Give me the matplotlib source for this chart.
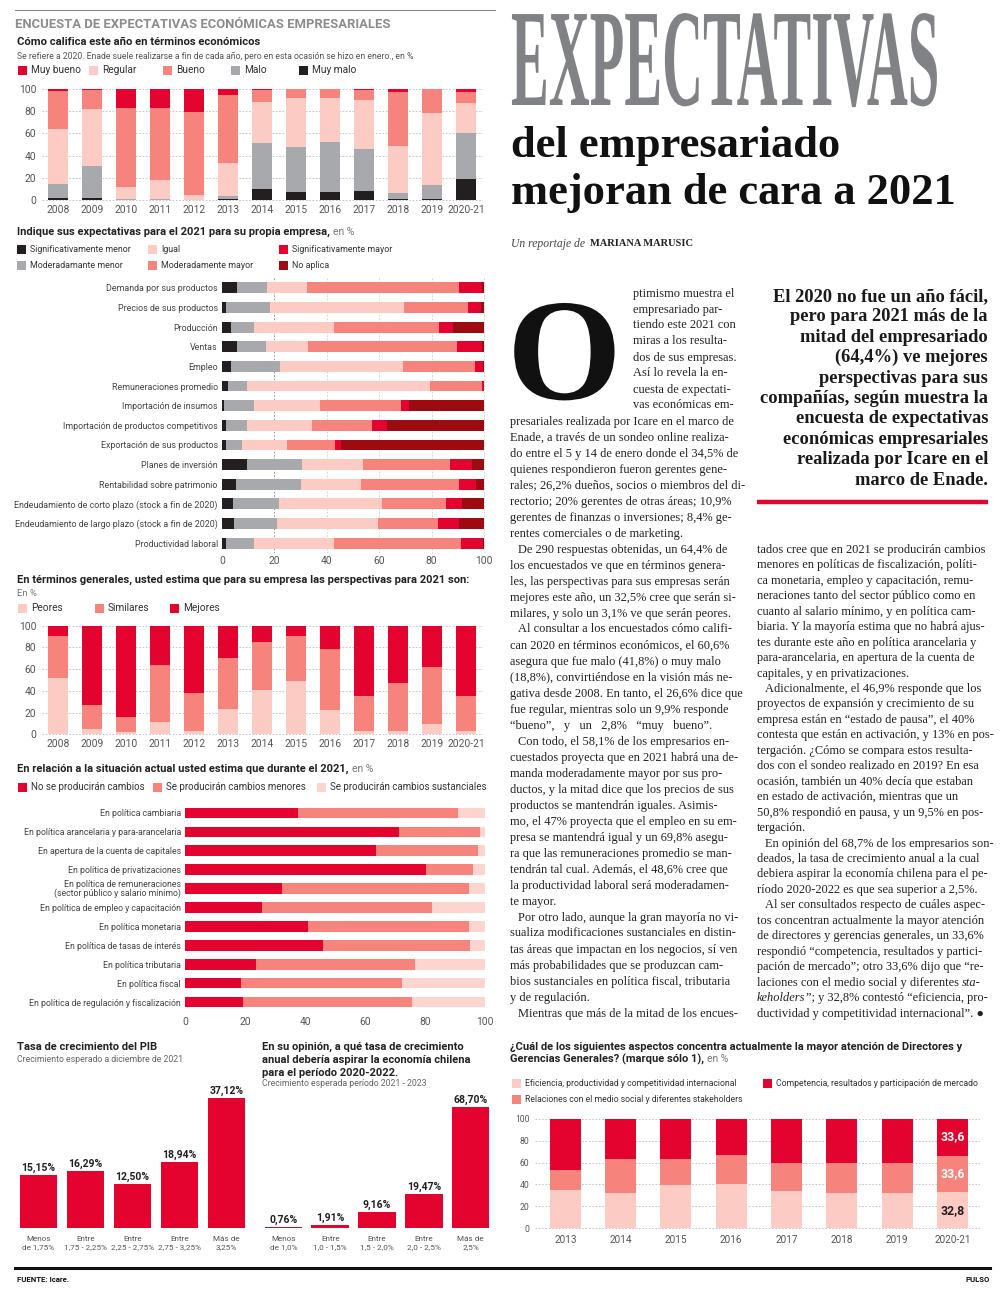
"""Pulso page: encuesta de expectativas economicas empresariales (Icare / Enade)."""

import matplotlib
matplotlib.use('Agg')
import numpy as np
import matplotlib.pyplot as plt
from matplotlib.patches import Rectangle
from matplotlib.patheffects import AbstractPathEffect
from matplotlib.transforms import Affine2D

W, H = 1000, 1298
SANS = 'Roboto'
SERIF = 'Liberation Serif'
plt.rcParams['font.family'] = [SANS, 'DejaVu Sans']

RED = '#e4032e'
SALMON = '#f6837c'
PINK = '#fccbc3'
GRAY = '#a7a9ac'
BLACK = '#231f20'
DARKRED = '#9d0a10'
TXT = '#222222'
TICK = '#555555'

# --- Como califica este ano (stacked, %)
years = ['2008', '2009', '2010', '2011', '2012', '2013', '2014', '2015',
         '2016', '2017', '2018', '2019', '2020-21']
muy_malo = [2, 2, 0, 0, 0, 1.5, 10.5, 7.7, 7.5, 8.6, 1.5, 1.5, 18.8]
malo = [13, 29, 1, 1, 0, 2.5, 40.5, 40.5, 44.5, 37, 5.5, 12.5, 41.8]
regular = [48.5, 51, 11, 17, 4.5, 29.5, 37, 43.5, 39.7, 44.4, 42, 64.4, 26.6]
bueno = [34, 16.5, 71, 65, 74.5, 60.5, 10.5, 8.3, 8.3, 8.5, 47.7, 21.6, 9.9]
muy_bueno = [2.5, 1.5, 17, 17, 21, 6, 1.5, 0, 0, 1.5, 3.3, 0, 2.8]

# --- Expectativas 2021 para la propia empresa (%)
items = ['Demanda por sus productos', 'Precios de sus productos', 'Producción',
         'Ventas', 'Empleo', 'Remuneraciones promedio', 'Importación de insumos',
         'Importación de productos competitivos', 'Exportación de sus productos',
         'Planes de inversión', 'Rentabilidad sobre patrimonio',
         'Endeudamiento de corto plazo (stock a fin de 2020)',
         'Endeudamiento de largo plazo (stock a fin de 2020)',
         'Productividad laboral']
sig_menor = [5.7, 1.5, 3.5, 5.7, 3.5, 2.3, 0.6, 1.4, 1.4, 9.5, 5.2, 4.2, 4.7, 1.4]
mod_menor = [11.6, 16.8, 8.6, 11.1, 18.6, 7.2, 11.6, 8.3, 6.2, 21.2, 25.1, 17.6, 16.3, 11.0]
igual = [15.0, 51.1, 30.6, 16.2, 47.0, 69.8, 25.3, 24.6, 17.1, 23.1, 22.9, 39.4, 38.7, 30.3]
mod_mayor = [58.1, 24.6, 40.3, 56.8, 27.5, 19.9, 30.7, 22.9, 18.4, 33.4, 37.1, 24.2, 22.7, 48.6]
sig_mayor = [8.7, 4.7, 5.0, 9.3, 3.1, 0.8, 3.1, 5.7, 2.5, 8.4, 6.5, 6.4, 7.9, 8.2]
no_aplica = [0.9, 1.3, 12.0, 0.9, 0.3, 0.0, 28.7, 37.1, 54.4, 4.4, 3.2, 8.2, 9.7, 0.5]

# --- Perspectivas generales para 2021 (%)
peores = [52, 5.2, 2.4, 11.3, 2.7, 23.2, 41.2, 48.8, 22, 3, 2.7, 9.5, 3.1]
similares = [38.2, 21.6, 13.8, 52.1, 35.1, 46.9, 43.6, 41.4, 56.7, 32.4, 44.9, 52.7, 32.5]
mejores = [9.8, 73.2, 83.8, 36.6, 62.2, 29.9, 15.2, 9.8, 21.3, 64.6, 52.4, 37.8, 64.4]

# --- Cambios en politicas durante 2021 (%)
politicas = ['En política cambiaria', 'En política arancelaria y para-arancelaria',
             'En apertura de la cuenta de capitales', 'En política de privatizaciones',
             'En política de remuneraciones\n(sector público y salario mínimo)',
             'En política de empleo y capacitación', 'En política monetaria',
             'En política de tasas de interés', 'En política tributaria',
             'En política fiscal', 'En política de regulación y fiscalización']
no_cambios = [37.7, 71.3, 63.5, 80.4, 32.2, 25.5, 41.1, 46.0, 23.7, 18.7, 19.2]
cambios_menores = [53.2, 27.0, 34.2, 15.7, 62.5, 56.8, 53.5, 49.1, 53.1, 53.6, 56.4]
cambios_sust = [9.1, 1.7, 2.3, 3.9, 5.3, 17.7, 5.4, 4.9, 23.2, 27.7, 24.4]

# --- Tasa de crecimiento del PIB / tasa a la que deberia aspirar
pib_rangos = ['Menos\nde 1,75%', 'Entre\n1,75 - 2,25%', 'Entre\n2,25 - 2,75%',
              'Entre\n2,75 - 3,25%', 'Más de\n3,25%']
pib_valores = [15.15, 16.29, 12.50, 18.94, 37.12]
asp_rangos = ['Menos\nde 1,0%', 'Entre\n1,0 - 1,5%', 'Entre\n1,5 - 2,0%',
              'Entre\n2,0 - 2,5%', 'Más de\n2,5%']
asp_valores = [0.76, 1.91, 9.16, 19.47, 68.70]

# --- Aspecto que concentra la atencion de directores (%)
anios_aten = ['2013', '2014', '2015', '2016', '2017', '2018', '2019', '2020-21']
eficiencia = [34.8, 32.4, 39.3, 40.2, 33.9, 32.1, 32.4, 32.8]
relaciones = [18.1, 30.7, 23.8, 26.5, 25.6, 27.7, 27.4, 33.6]
competencia = [47.1, 36.9, 36.9, 33.3, 40.5, 40.2, 40.2, 33.6]

deck_lines = ['El 2020 no fue un año fácil,', 'pero para 2021 más de la',
              'mitad del empresariado', '(64,4%) ve mejores',
              'perspectivas para sus', 'compañías, según muestra la',
              'encuesta de expectativas', 'económicas empresariales',
              'realizada por Icare en el', 'marco de Enade.']

# '\t' marks a paragraph indent, _..._ marks italics
col1_lines = [
    'ptimismo muestra el', 'empresariado par-', 'tiendo este 2021 con',
    'miras a los resulta-', 'dos de sus empresas.', 'Así lo revela la en-',
    'cuesta de expectati-', 'vas económicas em-',
    'presariales realizada por Icare en el marco de',
    'Enade, a través de un sondeo online realiza-',
    'do entre el 5 y 14 de enero donde el 34,5% de',
    'quienes respondieron fueron gerentes gene-',
    'rales; 26,2% dueños, socios o miembros del di-',
    'rectorio; 20% gerentes de otras áreas; 10,9%',
    'gerentes de finanzas o inversiones; 8,4% ge-',
    'rentes comerciales o de marketing.',
    '\tDe 290 respuestas obtenidas, un 64,4% de',
    'los encuestados ve que en términos genera-',
    'les, las perspectivas para sus empresas serán',
    'mejores este año, un 32,5% cree que serán si-',
    'milares, y solo un 3,1% ve que serán peores.',
    '\tAl consultar a los encuestados cómo califi-',
    'can 2020 en términos económicos, el 60,6%',
    'asegura que fue malo (41,8%) o muy malo',
    '(18,8%), convirtiéndose en la visión más ne-',
    'gativa desde 2008. En tanto, el 26,6% dice que',
    'fue regular, mientras solo un 9,9% responde',
    '“bueno”,   y   un   2,8%   “muy   bueno”.',
    '\tCon todo, el 58,1% de los empresarios en-',
    'cuestados proyecta que en 2021 habrá una de-',
    'manda moderadamente mayor por sus pro-',
    'ductos, y la mitad dice que los precios de sus',
    'productos se mantendrán iguales. Asimis-',
    'mo, el 47% proyecta que el empleo en su em-',
    'presa se mantendrá igual y un 69,8% asegu-',
    'ra que las remuneraciones promedio se man-',
    'tendrán tal cual. Además, el 48,6% cree que',
    'la productividad laboral será moderadamen-',
    'te mayor.',
    '\tPor otro lado, aunque la gran mayoría no vi-',
    'sualiza modificaciones sustanciales en distin-',
    'tas áreas que impactan en los negocios, sí ven',
    'más probabilidades que se produzcan cam-',
    'bios sustanciales en política fiscal, tributaria',
    'y de regulación.',
    '\tMientras que más de la mitad de los encues-',
]
col2_lines = [
    'tados cree que en 2021 se producirán cambios',
    'menores en políticas de fiscalización, políti-',
    'ca monetaria, empleo y capacitación, remu-',
    'neraciones tanto del sector público como en',
    'cuanto al salario mínimo, y en política cam-',
    'biaria. Y la mayoría estima que no habrá ajus-',
    'tes durante este año en política arancelaria y',
    'para-arancelaria, en apertura de la cuenta de',
    'capitales, y en privatizaciones.',
    '\tAdicionalmente, el 46,9% responde que los',
    'proyectos de expansión y crecimiento de su',
    'empresa están en “estado de pausa”, el 40%',
    'contesta que están en activación, y 13% en pos-',
    'tergación. ¿Cómo se compara estos resulta-',
    'dos con el sondeo realizado en 2019? En esa',
    'ocasión, también un 40% decía que estaban',
    'en estado de activación, mientras que un',
    '50,8% respondió en pausa, y un 9,5% en pos-',
    'tergación.',
    '\tEn opinión del 68,7% de los empresarios son-',
    'deados, la tasa de crecimiento anual a la cual',
    'debiera aspirar la economía chilena para el pe-',
    'ríodo 2020-2022 es que sea superior a 2,5%.',
    '\tAl ser consultados respecto de cuáles aspec-',
    'tos concentran actualmente la mayor atención',
    'de directores y gerencias generales, un 33,6%',
    'respondió “competencia, resultados y partici-',
    'pación de mercado”; otro 33,6% dijo que “re-',
    'laciones con el medio social y diferentes _sta-_',
    '_keholders_”; y 32,8% contestó “eficiencia, pro-',
    'ductividad y competitividad internacional”. ●',
]


class Stretch(AbstractPathEffect):
    """Scale glyph outlines about the text origin (display type)."""

    def __init__(self, sx=1.0, sy=1.0):
        super().__init__()
        self.sx, self.sy = sx, sy

    def draw_path(self, renderer, gc, tpath, affine, rgbFace=None):
        x0, y0 = affine.transform((0, 0))
        affine = affine + Affine2D().translate(-x0, -y0).scale(
            self.sx, self.sy).translate(x0, y0)
        renderer.draw_path(gc, tpath, affine, rgbFace)


fig = plt.figure(figsize=(W / 100, H / 100), dpi=100)
renderer = fig.canvas.get_renderer()

# page layer in pixel coordinates (y downwards)
pg = fig.add_axes([0, 0, 1, 1])
pg.set_xlim(0, W)
pg.set_ylim(H, 0)
pg.axis('off')


def panel(x0, y0, x1, y1):
    ax = fig.add_axes([x0 / W, 1 - y1 / H, (x1 - x0) / W, (y1 - y0) / H])
    ax.patch.set_visible(False)
    return ax


def txt(x, y, s, size, weight='normal', color=TXT, family=None, **kw):
    kw.setdefault('ha', 'left')
    kw.setdefault('va', 'center')
    return pg.text(x, y, s, fontsize=size, fontweight=weight, color=color,
                   family=family or [SANS, 'DejaVu Sans'], **kw)


def right_edge(t):
    return t.get_window_extent(renderer).x1


def key(x, y, color, label, size):
    pg.add_patch(Rectangle((x, y - 4.5), 9, 9, color=color, lw=0))
    txt(x + 13, y, label, size, color='#333333')


def title_with_unit(x, y, s, size):
    t = txt(x, y, s, size, 'bold')
    txt(right_edge(t) + 3, y, 'en %', size - 0.6, color='#777777')


def style_axes(ax):
    for sp in ax.spines.values():
        sp.set_visible(False)
    ax.tick_params(length=0, colors=TICK)


def stacked_columns(ax, series, colors, n, width):
    x = np.arange(n)
    bottom = np.zeros(n)
    for vals, col in zip(series, colors):
        ax.bar(x, vals, width, bottom=bottom, color=col, lw=0, zorder=2)
        bottom += np.array(vals)
    return x


def stacked_rows(ax, series, colors, n, height):
    y = np.arange(n)
    left = np.zeros(n)
    for vals, col in zip(series, colors):
        ax.barh(y, vals, height, left=left, color=col, lw=0, zorder=2)
        left += np.array(vals)
    return y


def year_chart(ax, series, colors, labels, xlim):
    x = stacked_columns(ax, series, colors, len(labels), 0.56)
    style_axes(ax)
    ax.set_xlim(*xlim)
    ax.set_ylim(-0.6, 100.6)
    ax.set_yticks(range(0, 101, 20))
    ax.set_xticks(x, labels)
    ax.tick_params(axis='y', pad=4, labelsize=7.4)
    ax.tick_params(axis='x', pad=3, labelsize=7.4)
    ax.yaxis.grid(True, linestyle=(0, (2, 2)), color='#bbbbbb', lw=0.6)
    ax.set_axisbelow(True)


def range_chart(ax, vals, labels, top):
    x = np.arange(len(vals))
    bars = ax.bar(x, vals, 0.8, color=RED, lw=0)
    style_axes(ax)
    ax.set_xlim(-0.5, len(vals) - 0.5)
    ax.set_ylim(0, top)
    ax.set_yticks([])
    ax.set_xticks(x, labels)
    ax.tick_params(axis='x', pad=6, labelsize=5.9)
    for lab in ax.get_xticklabels():
        lab.set_linespacing(1.45)
    for b, v in zip(bars, vals):
        ax.annotate(f'{v:.2f}%'.replace('.', ','), (b.get_x() + b.get_width() / 2, v),
                    xytext=(0, 1.5), textcoords='offset points', ha='center',
                    va='bottom', fontsize=7.5, fontweight='bold', color=BLACK)


# ------------------------------------------------------------------ left column
pg.plot([15, 495], [10, 10], color='#8a8a8a', lw=0.8)
txt(15, 24, 'ENCUESTA DE EXPECTATIVAS ECONÓMICAS EMPRESARIALES', 9.4, 'bold', '#8c8c8c')
txt(17, 42, 'Cómo califica este año en términos económicos', 8.1, 'bold')
txt(17, 56, 'Se refiere a 2020. Enade suele realizarse a fin de cada año, pero en '
    'esta ocasión se hizo en enero., en %', 6.2, color='#555555')
for kx, kc, kl in [(18, RED, 'Muy bueno'), (89, PINK, 'Regular'), (163, SALMON, 'Bueno'),
                   (231, GRAY, 'Malo'), (299, BLACK, 'Muy malo')]:
    key(kx, 70, kc, kl, 7.3)

ax1 = panel(42, 88, 483, 201)
year_chart(ax1, [muy_malo, malo, regular, bueno, muy_bueno],
           [BLACK, GRAY, PINK, SALMON, RED], years, (-0.47, 12.5))

title_with_unit(17, 232, 'Indique sus expectativas para el 2021 para su propia empresa,', 8.0)
for kx, ky, kc, kl in [(17, 249, BLACK, 'Significativamente menor'), (148, 249, PINK, 'Igual'),
                       (279, 249, RED, 'Significativamente mayor'),
                       (17, 265, GRAY, 'Moderadamante menor'),
                       (148, 265, SALMON, 'Moderadamente mayor'), (279, 265, DARKRED, 'No aplica')]:
    key(kx, ky, kc, kl, 6.4)

ax2 = panel(222, 278, 485, 553)
yy = stacked_rows(ax2, [sig_menor, mod_menor, igual, mod_mayor, sig_mayor, no_aplica],
                  [BLACK, GRAY, PINK, SALMON, RED, DARKRED], len(items), 0.55)
style_axes(ax2)
ax2.set_ylim(len(items) - 0.5, -0.5)
ax2.set_xlim(0, 100.4)
ax2.set_yticks(yy, items)
ax2.set_xticks(range(0, 101, 20))
ax2.tick_params(axis='y', pad=3, labelsize=6.4, labelcolor='#444444')
ax2.tick_params(axis='x', pad=2, labelsize=7.4)
for v in range(20, 101, 20):
    ax2.axvline(v, ls=(0, (2, 2)), color='#888888' if v == 20 else '#cccccc', lw=0.6, zorder=1)

txt(17, 580, 'En términos generales, usted estima que para su empresa las perspectivas '
    'para 2021 son:', 8.0, 'bold')
txt(17, 593, 'En %', 6.8, color='#777777')
for kx, kc, kl in [(18, PINK, 'Peores'), (95, SALMON, 'Similares'), (170, RED, 'Mejores')]:
    key(kx, 608, kc, kl, 7.3)

ax3 = panel(42, 625, 483, 735)
year_chart(ax3, [peores, similares, mejores], [PINK, SALMON, RED], years, (-0.47, 12.5))

title_with_unit(17, 769, 'En relación a la situación actual usted estima que durante el 2021,', 8.0)
for kx, kc, kl in [(18, RED, 'No se producirán cambios'), (153, SALMON, 'Se producirán cambios menores'),
                   (317, '#fdd5ce', 'Se producirán cambios sustanciales')]:
    key(kx, 787, kc, kl, 7.0)

ax4 = panel(185, 803.5, 486, 1011.5)
yy = stacked_rows(ax4, [no_cambios, cambios_menores, cambios_sust],
                  [RED, SALMON, '#fdd5ce'], len(politicas), 0.56)
style_axes(ax4)
ax4.set_ylim(len(politicas) - 0.5, -0.5)
ax4.set_xlim(0, 100.3)
ax4.set_yticks(yy, politicas)
ax4.set_xticks(range(0, 101, 20))
ax4.tick_params(axis='y', pad=3, labelsize=6.3, labelcolor='#444444')
ax4.tick_params(axis='x', pad=4, labelsize=7.4)
for lab in ax4.get_yticklabels():
    lab.set_linespacing(0.9)

# --- bottom range charts
txt(17, 1047, 'Tasa de crecimiento del PIB', 8.0, 'bold')
txt(17, 1059, 'Crecimiento esperado a diciembre de 2021', 6.3, color='#666666')
ax5 = panel(15, 1068, 250, 1228)
range_chart(ax5, pib_valores, pib_rangos, 45.7)

for i, line in enumerate(['En su opinión, a qué tasa de crecimiento',
                          'anual debería aspirar la economía chilena',
                          'para el período 2020-2022.']):
    txt(262, 1047 + 13 * i, line, 8.0, 'bold')
txt(262, 1084, 'Crecimiento esperada período 2021 - 2023', 6.3, color='#666666')
ax6 = panel(260, 1068, 494, 1228)
range_chart(ax6, asp_valores, asp_rangos, 90.8)

# ------------------------------------------------------------------ right side
pg.text(511, 105, 'EXPECTATIVAS', fontsize=40.8, fontweight='bold', family=SERIF,
        color='#808285', ha='left', va='baseline', path_effects=[Stretch(1.0, 2.45)])
pg.text(511, 157, 'del empresariado', fontsize=32, fontweight='bold', family=SERIF,
        color='#111111', ha='left', va='baseline')
pg.text(511, 204, 'mejoran de cara a 2021', fontsize=32, fontweight='bold', family=SERIF,
        color='#111111', ha='left', va='baseline')
t = pg.text(511, 244, 'Un reportaje de', fontsize=8.4, style='italic', family=SERIF,
            color='#444444', ha='left', va='center')
pg.text(right_edge(t) + 5, 244, 'MARIANA MARUSIC', fontsize=7.5, fontweight='bold',
        family=SERIF, color='#222222', ha='left', va='center')

for i, line in enumerate(deck_lines):
    pg.text(988, 301 + 20.4 * i, line, fontsize=13.3, fontweight='bold', family=SERIF,
            color='#1a1a1a', ha='right', va='baseline')
pg.plot([757, 988], [502, 502], color=RED, lw=3.2, solid_capstyle='butt')

BODY_PT = 8.9


def body_line(x, y, s):
    if s.startswith('\t'):
        x += 8
        s = s[1:]
    for i, part in enumerate(s.split('_')):
        if not part:
            continue
        t = pg.text(x, y, part, fontsize=BODY_PT, family=[SERIF, 'DejaVu Sans'],
                    style='italic' if i % 2 else 'normal', color=TXT,
                    ha='left', va='baseline')
        x = right_edge(t)


# drop cap: set small and scaled up so its box stays clear of the body lines
pg.text(507, 399, 'O', fontsize=36, fontweight='bold', family=SERIF, color='#111111',
        ha='left', va='baseline', path_effects=[Stretch(2.95, 2.9)])
for i, line in enumerate(col1_lines):
    body_line(633 if i < 8 else 510, 296.5 + 16.0 * i, line)
for i, line in enumerate(col2_lines):
    body_line(757, 553 + 15.45 * i, line)

# --- attention chart
txt(510, 1047, '¿Cuál de los siguientes aspectos concentra actualmente la mayor atención '
    'de Directores y', 8.0, 'bold')
title_with_unit(510, 1059, 'Gerencias Generales? (marque sólo 1),', 8.0)
key(512, 1083, PINK, 'Eficiencia, productividad y competitividad internacional', 6.2)
key(763, 1083, RED, 'Competencia, resultados y participación de mercado', 6.2)
key(512, 1099, SALMON, 'Relaciones con el medio social y diferentes stakeholders', 6.2)

ax7 = panel(535, 1118, 980, 1229)
year_chart(ax7, [eficiencia, relaciones, competencia], [PINK, SALMON, RED],
           anios_aten, (-0.55, 7.5))
ax7.tick_params(axis='y', pad=4, labelsize=6.2)
ax7.tick_params(axis='x', pad=4, labelsize=7.2)
last = len(anios_aten) - 1
base = 0
for vals, col in [(eficiencia, BLACK), (relaciones, 'white'), (competencia, 'white')]:
    v = vals[last]
    ax7.text(last, base + v / 2, f'{v:.1f}'.replace('.', ','), ha='center', va='center',
             fontsize=8.8, fontweight='bold', color=col, zorder=3)
    base += v

# ------------------------------------------------------------------ footer
pg.plot([15, 990], [1268, 1268], color='#111111', lw=2.2)
txt(17, 1279, 'FUENTE: Icare.', 5.6, 'bold', '#111111')
txt(990, 1279, 'PULSO', 5.6, 'bold', '#111111', ha='right')

fig.savefig('out.png', dpi=100)
